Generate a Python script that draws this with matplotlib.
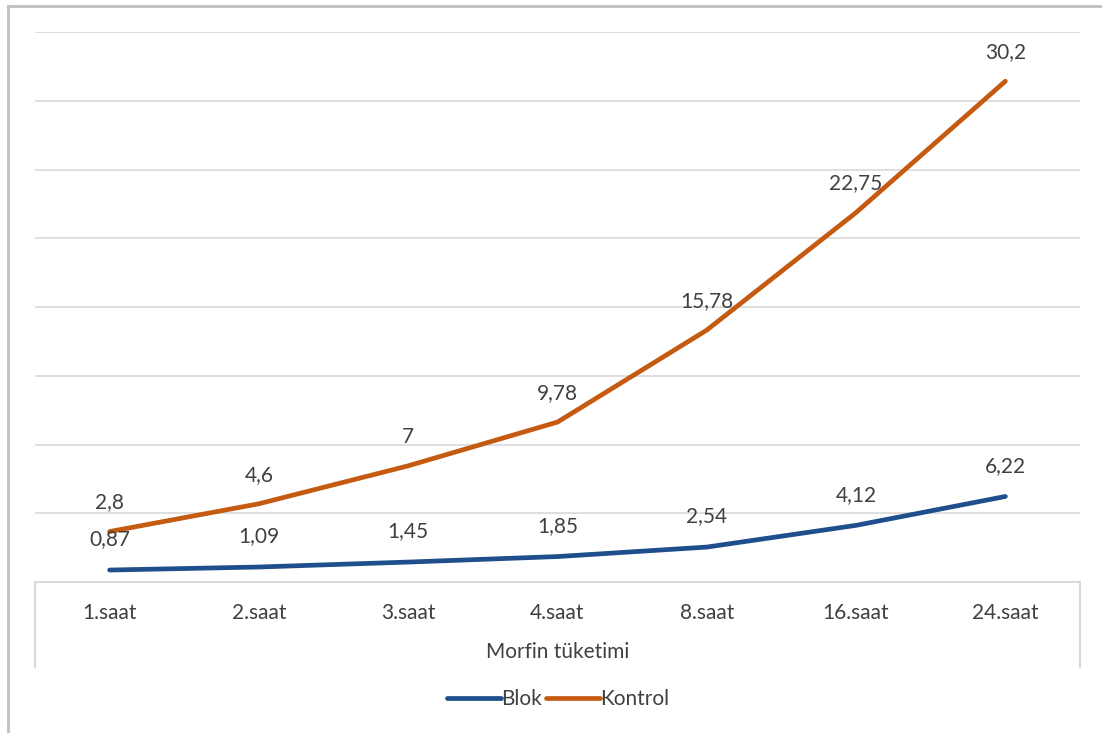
import numpy as np
import matplotlib
matplotlib.use("Agg")
import matplotlib.pyplot as plt
from matplotlib.lines import Line2D
import matplotlib.transforms as mtransforms

# morphine consumption per hour (stacked line chart in the original)
categories = ["1.saat", "2.saat", "3.saat", "4.saat", "8.saat", "16.saat", "24.saat"]
blok = [0.87, 1.09, 1.45, 1.85, 2.54, 4.12, 6.22]
kontrol = [2.8, 4.6, 7, 9.78, 15.78, 22.75, 30.2]

BLUE = "#1f4e8c"
ORANGE = "#c55a11"
GRID = "#d9d9d9"
TEXT = "#404040"
FS = 15

plt.rcParams["font.family"] = ["Lato", "DejaVu Sans"]

fig = plt.figure(figsize=(11.02, 7.33), dpi=100)
ax = fig.add_axes([35 / 1102, 1 - 582 / 733, (1080 - 35) / 1102, 550 / 733])

x = np.arange(len(categories))
stacked = np.add(blok, kontrol)

ax.plot(x, blok, color=BLUE, lw=3.4, solid_capstyle="round", label="Blok")
ax.plot(x, stacked, color=ORANGE, lw=3.4, solid_capstyle="round", label="Kontrol")


def fmt(v):
    return f"{v:g}".replace(".", ",")


for xi, yv, lab in zip(x, blok, blok):
    ax.annotate(fmt(lab), (xi, yv), xytext=(0, 22), textcoords="offset points",
                ha="center", va="center", fontsize=FS, color=TEXT)
for xi, yv, lab in zip(x, stacked, kontrol):
    ax.annotate(fmt(lab), (xi, yv), xytext=(0, 21), textcoords="offset points",
                ha="center", va="center", fontsize=FS, color=TEXT)

ax.set_xlim(-0.5, len(categories) - 0.5)
ax.set_ylim(0, 40)
ax.set_yticks(np.arange(0, 41, 5))
ax.set_yticklabels([])
ax.tick_params(axis="y", length=0)
ax.grid(axis="y", color=GRID, lw=1.2)
ax.set_axisbelow(True)

ax.set_xticks(x)
ax.set_xticklabels(categories, fontsize=FS, color=TEXT)
ax.tick_params(axis="x", length=0, pad=15)
ax.set_xlabel("Morfin tüketimi", fontsize=FS, color=TEXT)
ax.xaxis.set_label_coords(0.5, -(652 - 582) / 550)
ax.xaxis.label.set_va("center")

for side in ["top", "right", "left"]:
    ax.spines[side].set_visible(False)
ax.spines["bottom"].set_color(GRID)
ax.spines["bottom"].set_linewidth(1.5)

# edge lines of the category axis area
trans = mtransforms.blended_transform_factory(ax.transData, ax.transAxes)
for xe in [-0.5, len(categories) - 0.5]:
    ax.plot([xe, xe], [0, -85 / 550], color=GRID, lw=1.5, transform=trans, clip_on=False)

fig.legend(loc="center", bbox_to_anchor=(558 / 1102, 1 - 699 / 733), ncol=2,
           frameon=False, fontsize=FS, handlelength=2.6, handletextpad=0.0,
           columnspacing=0.2, labelcolor=TEXT)

# outer chart border (cropped on right and bottom)
fig.add_artist(Line2D([8 / 1102, 8 / 1102], [0, 1 - 6 / 733], color="#bfbfbf", lw=2,
                      transform=fig.transFigure))
fig.add_artist(Line2D([8 / 1102, 1], [1 - 6 / 733, 1 - 6 / 733], color="#bfbfbf", lw=2,
                      transform=fig.transFigure))

fig.savefig("out.png", dpi=100)
